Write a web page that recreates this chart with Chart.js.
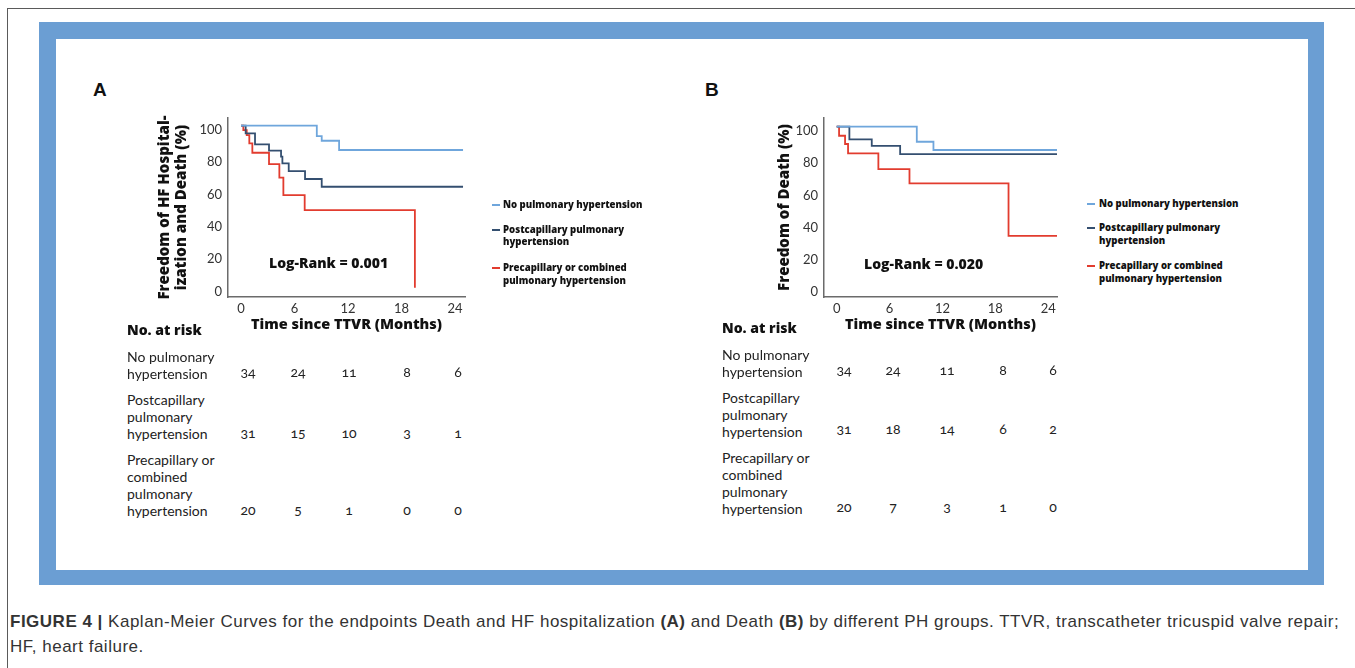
<!DOCTYPE html>
<html>
<head>
<meta charset="utf-8">
<script src="https://cdn.jsdelivr.net/npm/chart.js@4.4.1/dist/chart.umd.min.js"></script>
<style>
body{margin:0;background:#fff;width:1355px;height:668px;position:relative;overflow:hidden;font-family:Lato,"Open Sans",sans-serif;color:#1e1e1e}
.abs{position:absolute}
#pageL{left:7px;top:8px;width:1px;height:660px;background:#5a5a5a}
#pageT{left:7px;top:8px;width:1348px;height:1px;background:#5a5a5a}
#frame{left:39px;top:22px;width:1285px;height:563px;background:#6b9ed3}
#inner{left:56px;top:39px;width:1252px;height:531px;background:#fff}
.panel{font-weight:bold;font-size:19px;line-height:20px;font-family:"Liberation Sans",Arial,sans-serif;color:#111}
.logrank{font-family:"Open Sans",sans-serif;font-weight:800;font-size:14px;line-height:16px;color:#111;white-space:nowrap}
.leg{font-family:"Open Sans",sans-serif;font-weight:800;font-size:9.6px;line-height:12.5px;color:#111;white-space:nowrap}
.mark{width:8px;height:2px}
.head{font-family:"Open Sans",sans-serif;font-weight:800;font-size:14px;line-height:16px;color:#111}
.rowlab{font-size:14px;line-height:17px;color:#222;white-space:nowrap}
.num{font-size:14px;line-height:16px;color:#222;width:30px;margin-left:-15px;text-align:center;font-variant-numeric:oldstyle-nums}
#caption{left:10px;top:609px;font-family:"Liberation Sans",Arial,sans-serif;font-size:17px;letter-spacing:0.5px;line-height:25px;color:#333;white-space:nowrap}
canvas{position:absolute}
</style>
</head>
<body>
<div id="pageT" class="abs"></div>
<div id="pageL" class="abs"></div>
<div id="frame" class="abs"></div>
<div id="inner" class="abs"></div>

<div class="abs panel" style="left:93px;top:80px">A</div>
<div class="abs panel" style="left:705px;top:80px">B</div>

<canvas id="chartA" width="330" height="240" style="left:150px;top:100px"></canvas>
<canvas id="chartB" width="300" height="240" style="left:770px;top:100px"></canvas>

<div class="abs logrank" style="left:269px;top:255px">Log-Rank = 0.001</div>
<div class="abs logrank" style="left:864px;top:256px">Log-Rank = 0.020</div>

<div id="legA"></div>
<div id="legB"></div>
<div id="tabA"></div>
<div id="tabB"></div>

<div id="caption" class="abs"><b>FIGURE 4 |</b> Kaplan-Meier Curves for the endpoints Death and HF hospitalization <b>(A)</b> and Death <b>(B)</b> by different PH groups. TTVR, transcatheter tricuspid valve repair;<br>HF, heart failure.</div>

<script>
// tick labels
const monthTicks = [0, 6, 12, 18, 24];
const pctTicks = [0, 20, 40, 60, 80, 100];

// groups
const groupColors = ['#6fa6dc', '#344f70', '#e23c2f'];
const legendLines = [['No pulmonary hypertension'], ['Postcapillary pulmonary', 'hypertension'], ['Precapillary or combined', 'pulmonary hypertension']];
const tableLines = [['No pulmonary', 'hypertension'], ['Postcapillary', 'pulmonary', 'hypertension'], ['Precapillary or', 'combined', 'pulmonary', 'hypertension']];

// panel A: freedom of HF hospitalization and death
const aNoTime   = [0, 8.5, 9.05, 11.0, 24.9];
const aNoSurv   = [100, 93.6, 90.7, 85.0, 85.0];
const aPostTime = [0, 0.52, 1.57, 3.14, 4.49, 4.64, 5.35, 7.18, 9.05, 24.9];
const aPostSurv = [100, 95.3, 88.5, 84.6, 80.9, 76.7, 72.0, 67.1, 62.3, 62.3];
const aPreTime  = [0, 0.26, 0.64, 0.93, 1.27, 3.14, 4.3, 4.75, 7.14, 19.5];
const aPreSurv  = [100, 97.3, 94.2, 89.1, 83.3, 76.3, 67.9, 57.2, 47.9, 0];

// panel B: freedom of death
const bNoTime   = [0, 9.09, 10.98, 25];
const bNoSurv   = [100, 90.7, 85.6, 85.6];
const bPostTime = [0, 1.44, 3.98, 7.2, 25];
const bPostSurv = [100, 92.2, 88.2, 83.1, 83.1];
const bPreTime  = [0, 0.27, 0.95, 1.29, 4.73, 8.26, 19.5, 25];
const bPreSurv  = [100, 94.4, 89.3, 83.5, 73.8, 64.9, 32.4, 32.4];

// no. at risk at 0, 6, 12, 18, 24 months
const aRiskNo   = [34, 24, 11, 8, 6];
const aRiskPost = [31, 15, 10, 3, 1];
const aRiskPre  = [20, 5, 1, 0, 0];
const bRiskNo   = [34, 24, 11, 8, 6];
const bRiskPost = [31, 18, 14, 6, 2];
const bRiskPre  = [20, 7, 3, 1, 0];

function pts(t, s) { return t.map((x, i) => ({x: x, y: s[i]})); }

function ds(t, s, i) {
  return {data: pts(t, s), borderColor: groupColors[i], borderWidth: 1.8, stepped: 'before',
          pointRadius: 0, tension: 0, fill: false};
}

function kmChart(id, sets, o) {
  return new Chart(document.getElementById(id), {
    type: 'line',
    data: {datasets: sets},
    options: {
      responsive: false, animation: false, devicePixelRatio: 1,
      layout: {padding: {top: 18, right: o.padRight, left: 0, bottom: 0}},
      plugins: {legend: {display: false}, tooltip: {enabled: false}},
      scales: {
        x: {
          type: 'linear', min: o.xMin, max: o.xMax,
          afterBuildTicks: s => { s.ticks = monthTicks.map(v => ({value: v})); },
          afterFit: s => { s.height = 43; },
          grid: {display: false, drawTicks: false},
          border: {color: '#6b6b6b', width: 1.5},
          ticks: {padding: 4, color: '#333', font: {family: 'Lato', size: 13}, maxRotation: 0, autoSkip: false},
          title: {display: true, text: 'Time since TTVR (Months)', color: '#111',
                  font: {family: 'Open Sans', size: 14.5, weight: 800}, padding: {top: 0, bottom: 6}}
        },
        y: {
          type: 'linear', min: o.yMin, max: o.yMax,
          afterBuildTicks: s => { s.ticks = pctTicks.map(v => ({value: v})); },
          afterFit: s => { s.width = o.yWidth; },
          grid: {display: false, drawTicks: false},
          border: {color: '#6b6b6b', width: 1.5},
          ticks: {padding: 6, labelOffset: 4, color: '#333', font: {family: 'Lato', size: 13}},
          title: {display: true, text: o.yTitle, color: '#111',
                  font: {family: 'Open Sans', size: o.yTitleSize, weight: 800, lineHeight: 1.1}, padding: {top: o.yTitlePad, bottom: 0}}
        }
      }
    }
  });
}

kmChart('chartA', [ds(aNoTime, aNoSurv, 0), ds(aPostTime, aPostSurv, 1), ds(aPreTime, aPreSurv, 2)],
  {xMin: -1.46, xMax: 25.12, yMin: -5.74, yMax: 104.75, yWidth: 78, padRight: 15,
   yTitle: ['Freedom of HF Hospital-', 'ization and Death (%)'], yTitleSize: 15, yTitlePad: 6.5});

kmChart('chartB', [ds(bNoTime, bNoSurv, 0), ds(bPostTime, bPostSurv, 1), ds(bPreTime, bPreSurv, 2)],
  {xMin: -1.44, xMax: 25.0, yMin: -5.4, yMax: 105.4, yWidth: 54, padRight: 13,
   yTitle: 'Freedom of Death (%)', yTitleSize: 15, yTitlePad: 6.5});

function legend(el, markX, textX, lineYs) {
  let s = '';
  legendLines.forEach((lines, i) => {
    s += `<div class="abs mark" style="left:${markX}px;top:${lineYs[i][0] - 1}px;background:${groupColors[i]}"></div>`;
    lines.forEach((t, j) => {
      s += `<div class="abs leg" style="left:${textX}px;top:${lineYs[i][j] - 6.25}px">${t}</div>`;
    });
  });
  document.getElementById(el).innerHTML = s;
}
legend('legA', 492, 503, [[205], [230, 242.5], [268, 281]]);
legend('legB', 1087, 1099, [[204], [228, 241], [266, 279]]);

function riskTable(el, left, headY, rowTops, lineH, cols, numYs, rows) {
  let s = `<div class="abs head" style="left:${left}px;top:${headY - 8}px">No. at risk</div>`;
  tableLines.forEach((lines, i) => {
    s += `<div class="abs rowlab" style="left:${left}px;top:${rowTops[i]}px;line-height:${lineH}px">${lines.join('<br>')}</div>`;
    rows[i].forEach((n, j) => {
      s += `<div class="abs num" style="left:${cols[j]}px;top:${numYs[i] - 8}px">${n}</div>`;
    });
  });
  document.getElementById(el).innerHTML = s;
}
riskTable('tabA', 127, 330, [347.5, 390.5, 450.5], 17, [248, 298, 349, 407, 458], [372, 433, 510],
  [aRiskNo, aRiskPost, aRiskPre]);
riskTable('tabB', 722, 328, [345.5, 388.5, 448.5], 17.3, [844, 893, 947, 1003, 1053], [370, 429, 507],
  [bRiskNo, bRiskPost, bRiskPre]);
</script>
</body>
</html>
